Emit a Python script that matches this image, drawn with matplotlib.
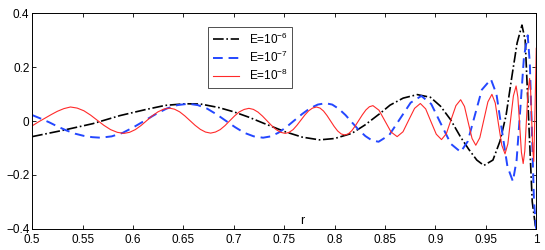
import matplotlib
matplotlib.use("Agg")
import matplotlib.pyplot as plt

plt.rcParams['font.family'] = ['Liberation Sans', 'DejaVu Sans']
plt.rcParams['mathtext.default'] = 'regular'

# values
r_e6 = [0.500, 0.530, 0.560, 0.587, 0.612, 0.632, 0.652, 0.667, 0.685, 0.700,
        0.715, 0.730, 0.751, 0.768, 0.785, 0.800, 0.817, 0.830, 0.845, 0.855,
        0.868, 0.882, 0.895, 0.905, 0.915, 0.925, 0.933, 0.941, 0.948, 0.957,
        0.964, 0.970, 0.976, 0.981, 0.9858, 0.989, 0.9925, 0.996, 0.9995]
u_e6 = [-0.058, -0.035, -0.010, 0.020, 0.042, 0.058, 0.064, 0.063, 0.050, 0.034,
        0.014, -0.009, -0.040, -0.060, -0.070, -0.065, -0.046, -0.015, 0.028, 0.059,
        0.085, 0.098, 0.088, 0.055, 0.005, -0.060, -0.105, -0.145, -0.165, -0.145,
        -0.075, 0.020, 0.170, 0.290, 0.356, 0.300, 0.000, -0.300, -0.400]

r_e7 = [0.500, 0.5085, 0.517, 0.5255, 0.534, 0.5425, 0.551, 0.5595, 0.568,
        0.5789, 0.5898, 0.6006, 0.6115, 0.6224, 0.6333, 0.6441, 0.655,
        0.6643, 0.6735, 0.6828, 0.692, 0.7013, 0.7105, 0.7198, 0.729,
        0.7368, 0.7445, 0.7523, 0.760, 0.7678, 0.7755, 0.7833, 0.791,
        0.7976, 0.8042, 0.8108, 0.8173, 0.8239, 0.8305, 0.837, 0.8436,
        0.8542, 0.8648, 0.8754, 0.886, 0.8958, 0.9055, 0.9153, 0.925, 0.932,
        0.939, 0.946, 0.955, 0.9605, 0.9659, 0.9714, 0.9768, 0.9805, 0.9842, 0.9878,
        0.9915, 0.9936, 0.9957, 0.9977, 0.9998]
u_e7 = [0.022, 0.009, -0.005, -0.021, -0.035, -0.047, -0.055, -0.060, -0.062,
        -0.057, -0.044, -0.023, 0.001, 0.025, 0.046, 0.059, 0.064,
        0.059, 0.046, 0.025, 0.001, -0.023, -0.044, -0.057, -0.062,
        -0.057, -0.043, -0.022, 0.002, 0.026, 0.047, 0.061, 0.066,
        0.061, 0.045, 0.022, -0.0055, -0.033, -0.056, -0.072, -0.077,
        -0.052, 0.008, 0.068, 0.093, 0.063, -0.011, -0.085, -0.115, -0.076,
        0.020, 0.116, 0.155, 0.100, -0.035, -0.169, -0.224, -0.145, 0.047, 0.239,
        0.318, 0.213, -0.041, -0.295, -0.400]

r_e8 = [0.500, 0.506, 0.5125, 0.519, 0.525, 0.5315, 0.538,
        0.5446, 0.5513, 0.5579, 0.5645, 0.5711, 0.5778, 0.5844, 0.591,
        0.5966, 0.6023, 0.6079, 0.6135, 0.6191, 0.6248, 0.6304, 0.636,
        0.6411, 0.6463, 0.6514, 0.6565, 0.6616, 0.6668, 0.6719, 0.677,
        0.6818, 0.6865, 0.6913, 0.696, 0.7008, 0.7055, 0.7103, 0.715,
        0.7195, 0.724, 0.7285, 0.733, 0.7375, 0.742, 0.7465, 0.751,
        0.7549, 0.7588, 0.7626, 0.7665, 0.7704, 0.7743, 0.7781, 0.782,
        0.7855, 0.789, 0.7925, 0.796, 0.7995, 0.803, 0.8065, 0.810,
        0.8135, 0.817, 0.8205, 0.824, 0.8275, 0.831, 0.8345, 0.838,
        0.844, 0.850, 0.856, 0.862,
        0.8678, 0.8735, 0.8793, 0.885, 0.8903, 0.8955, 0.9008, 0.906, 0.9108, 0.9155,
        0.9203, 0.925, 0.9288, 0.9325, 0.9363, 0.940, 0.944, 0.948, 0.952, 0.956,
        0.9593, 0.9625, 0.9658, 0.969, 0.9718, 0.9745, 0.9773, 0.980, 0.98175, 0.9835,
        0.98525, 0.987, 0.9886, 0.9902, 0.9918, 0.9934, 0.9944, 0.99545, 0.9965, 0.9975,
        0.9988, 1.000]
u_e8 = [-0.018, -0.004, 0.010, 0.024, 0.036, 0.046, 0.052,
        0.048, 0.038, 0.022, 0.003, -0.016, -0.032, -0.042, -0.046,
        -0.042, -0.032, -0.017, 0.001, 0.019, 0.034, 0.044, 0.048,
        0.044, 0.034, 0.019, 0.0015, -0.016, -0.031, -0.041, -0.045,
        -0.041, -0.032, -0.017, 0.001, 0.019, 0.034, 0.043, 0.047,
        0.043, 0.033, 0.018, 0.0005, -0.017, -0.032, -0.042, -0.046,
        -0.042, -0.032, -0.016, 0.003, 0.022, 0.038, 0.048, 0.052,
        0.048, 0.037, 0.020, 0.000, -0.020, -0.037, -0.048, -0.052,
        -0.048, -0.036, -0.018, 0.0025, 0.023, 0.041, 0.053, 0.057,
        0.040, -0.0005, -0.041, -0.058,
        -0.040, 0.0035, 0.047, 0.065, 0.045, -0.002, -0.049, -0.069, -0.047, 0.005,
        0.057, 0.079, 0.054, -0.0055, -0.065, -0.090, -0.062, 0.0045, 0.071, 0.099,
        0.067, -0.0115, -0.090, -0.122, -0.085, 0.004, 0.093, 0.130, 0.088, -0.014,
        -0.116, -0.158, -0.112, 0.000, 0.112, 0.158, 0.113, 0.004, -0.105, -0.150,
        0.050, 0.270]

x_ticks = [0.5, 0.55, 0.6, 0.65, 0.7, 0.75, 0.8, 0.85, 0.9, 0.95, 1.0]
x_tick_labels = ['0.5', '0.55', '0.6', '0.65', '0.7', '0.75', '0.8', '0.85', '0.9', '0.95', '1']
y_ticks = [-0.4, -0.2, 0, 0.2, 0.4]
y_tick_labels = ['\u22120.4', '\u22120.2', '0', '0.2', '0.4']

fig = plt.figure(figsize=(5.45, 2.5), dpi=100)
ax = fig.add_axes([0.059, 0.085, 0.925, 0.862])

ax.plot(r_e6, u_e6, color='k', linestyle='-.', linewidth=1.2, label='E=10$^{-6}$')
ax.plot(r_e7, u_e7, color='#2447ff', linestyle=(0, (5, 3)), linewidth=1.4, label='E=10$^{-7}$')
ax.plot(r_e8, u_e8, color='#ff2a2a', linestyle='-', linewidth=0.8, label='E=10$^{-8}$')

ax.set_xlim(0.5, 1.0)
ax.set_ylim(-0.4, 0.4)
ax.set_xticks(x_ticks)
ax.set_xticklabels(x_tick_labels)
ax.set_yticks(y_ticks)
ax.set_yticklabels(y_tick_labels)
ax.tick_params(direction='in', top=True, right=True, length=3, width=0.6,
               labelsize=8.5)
ax.tick_params(axis='x', pad=4)
ax.tick_params(axis='y', pad=2)
for s in ax.spines.values():
    s.set_linewidth(0.7)

ax.set_xlabel('r', fontsize=9)
ax.xaxis.set_label_coords(0.535, 0.064)

leg = ax.legend(loc='upper left', bbox_to_anchor=(0.338, 0.965), fontsize=8.5,
                frameon=True, fancybox=False, edgecolor='k', handlelength=2.2,
                borderpad=0.4, labelspacing=0.25, handletextpad=0.8)
leg.get_frame().set_linewidth(0.6)

fig.savefig('out.png', dpi=100)
